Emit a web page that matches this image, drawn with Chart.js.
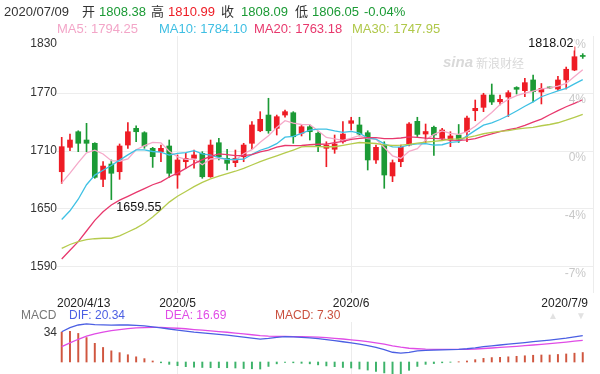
<!DOCTYPE html>
<html><head><meta charset="utf-8">
<script src="https://cdn.jsdelivr.net/npm/chart.js@4.4.1/dist/chart.umd.min.js"></script>
<style>
html,body{margin:0;padding:0;background:#fff;}
#wrap{position:relative;width:600px;height:374px;overflow:hidden;background:#fff;}
canvas{position:absolute;left:0;top:0;}
</style></head><body>
<div id="wrap"><canvas id="main" width="600" height="374"></canvas><canvas id="macd" width="600" height="374"></canvas></div>
<script>
// ---- data ----
const dates = ['4/13','4/14','4/15','4/16','4/17','4/20','4/21','4/22','4/23','4/24','4/27','4/28','4/29','4/30',
 '5/1','5/4','5/5','5/6','5/7','5/8','5/11','5/12','5/13','5/14','5/15','5/18','5/19','5/20','5/21','5/22','5/25','5/26','5/27','5/28','5/29',
 '6/1','6/2','6/3','6/4','6/5','6/8','6/9','6/10','6/11','6/12','6/15','6/16','6/17','6/18','6/19','6/22','6/23','6/24','6/25','6/26','6/29','6/30',
 '7/1','7/2','7/3','7/6','7/7','7/8','7/9'];
const opens = [1688.5,1713.8,1730.0,1721.4,1718.0,1680.6,1696.5,1688.5,1716.2,1733.5,1729.0,1712.8,1709.3,1715.2,
 1685.1,1698.9,1702.4,1707.6,1683.3,1718.6,1702.4,1697.9,1704.1,1718.0,1731.0,1747.3,1733.5,1747.3,1749.7,1728.4,1735.2,1728.4,1712.8,1711.8,1719.6,
 1738.7,1737.0,1729.0,1700.7,1716.2,1684.1,1698.9,1716.2,1740.8,1727.6,1734.6,1723.2,1721.4,1726.6,1730.0,1751.8,1755.3,1768.1,1761.1,1766.0,1775.9,1772.6,
 1783.7,1771.2,1776.1,1774.3,1783.7,1794.0,1808.38];
const highs = [1724.2,1727.6,1731.0,1738.7,1718.6,1698.9,1700.7,1717.3,1739.4,1736.0,1730.0,1713.8,1716.2,1721.4,
 1705.9,1707.6,1711.0,1709.3,1721.4,1723.2,1711.8,1711.0,1718.0,1740.4,1750.8,1764.7,1747.3,1752.5,1750.8,1737.0,1737.0,1730.0,1719.6,1726.6,1740.4,
 1745.0,1745.0,1731.0,1716.2,1719.6,1700.7,1716.2,1739.4,1745.0,1738.0,1735.9,1733.5,1730.0,1737.5,1746.3,1762.9,1769.9,1779.5,1768.1,1772.6,1776.7,1785.4,
 1788.8,1780.0,1776.4,1787.5,1797.1,1818.02,1810.99];
const lows = [1676.5,1710.3,1709.3,1709.3,1681.7,1673.0,1659.55,1680.6,1712.8,1719.6,1712.8,1693.0,1698.9,1682.7,
 1671.3,1692.0,1692.1,1681.7,1682.7,1700.7,1690.3,1693.7,1698.9,1711.8,1730.0,1728.4,1726.6,1745.0,1718.0,1725.6,1721.4,1709.3,1693.7,1707.6,1718.0,
 1731.8,1725.6,1690.3,1697.2,1671.3,1678.2,1693.7,1715.2,1725.0,1718.3,1705.3,1721.4,1714.5,1718.8,1719.6,1741.4,1750.8,1758.2,1757.7,1745.8,1769.1,1766.3,
 1760.8,1758.8,1775.0,1772.8,1774.3,1793.3,1806.05];
const closes = [1714.5,1721.4,1718.0,1718.0,1682.7,1694.4,1686.9,1715.2,1730.0,1730.0,1715.2,1704.1,1712.8,1686.9,
 1700.7,1702.4,1705.9,1683.3,1716.2,1704.1,1697.2,1702.4,1716.2,1737.0,1742.9,1731.0,1745.6,1750.8,1724.8,1735.2,1730.0,1714.5,1716.2,1717.3,1727.6,
 1741.4,1727.6,1700.7,1713.8,1685.1,1697.9,1713.8,1738.0,1727.2,1730.2,1726.6,1731.8,1725.6,1722.1,1744.2,1754.3,1768.1,1760.8,1763.6,1770.5,1774.0,1780.9,
 1771.5,1775.0,1775.4,1783.7,1794.8,1807.8,1808.09];
const ma5 = [1677,1687,1698,1708,1710.9,1706.9,1700.0,1699.4,1701.8,1711.3,1715.5,1718.9,1718.4,1709.8,1703.9,1701.4,1701.7,1695.8,1701.7,1702.4,
 1701.3,1700.6,1707.2,1711.4,1719.1,1725.9,1734.5,1741.5,1739.0,1737.5,1737.3,1731.1,1724.1,1722.6,1721.1,1723.4,1726.0,1722.9,1722.2,1713.7,
 1705.0,1702.3,1709.7,1712.4,1721.4,1727.2,1730.8,1728.3,1727.3,1730.1,1735.6,1742.9,1749.9,1758.2,1763.5,1767.4,1770.0,1772.1,1774.4,1775.4,
 1777.3,1780.1,1787.3,1794.25];
const ma10 = [1639,1648,1660,1675,1685,1690,1695,1700.5,1706,1711.1,1711.2,1709.5,1708.9,1705.8,1707.6,1708.4,1710.3,1707.1,1705.8,1703.2,
 1701.4,1701.2,1701.5,1706.5,1710.8,1713.6,1717.6,1724.3,1725.2,1728.3,1731.6,1732.8,1732.8,1730.8,1729.3,1730.3,1728.5,1723.5,1722.4,1717.4,
 1714.2,1714.1,1716.3,1717.3,1717.6,1716.1,1716.5,1719.0,1719.8,1725.7,1731.4,1736.8,1739.1,1742.7,1746.8,1751.5,1756.4,1761.0,1766.3,1769.4,
 1772.4,1775.0,1779.7,1784.10];
const ma20 = [1598,1607,1616,1627,1638,1647,1654,1659,1663,1667,1671,1675,1678,1683,1687,1692,1697,1701,1704.5,1707.1,
 1706.3,1705.3,1705.2,1706.2,1709.2,1711.0,1714.0,1715.7,1715.5,1715.7,1716.5,1717.0,1717.2,1718.7,1720.0,1722.0,1723.1,1723.9,1723.8,1722.9,
 1722.9,1723.5,1724.6,1724.1,1723.4,1723.2,1722.5,1721.3,1721.1,1721.6,1722.8,1725.5,1727.7,1730.0,1732.2,1733.8,1736.5,1740.0,1743.1,1747.6,
 1751.9,1755.9,1759.4,1763.18];
const ma30 = [1609,1613,1616,1618,1619,1619.5,1619.5,1622,1626,1630,1635,1641.5,1649,1657,1663,1668,1673,1677.5,1681,1684,
 1686.5,1689,1692,1695.5,1699,1702,1705,1708,1711,1714.2,1714.7,1714.5,1714.4,1714.4,1715.9,1717.5,1718.8,1718.3,1717.8,1716.3,
 1715.7,1716.0,1716.9,1718.2,1719.2,1720.0,1720.9,1722.3,1722.5,1723.8,1725.7,1727.9,1729.4,1730.3,1731.2,1732.6,1733.8,1734.5,1736.2,1737.5,
 1739.3,1742.0,1745.0,1747.95];
const dif = [23.3,26.5,28.5,29.3,28.8,28.6,28.4,28.6,28.5,28.2,27.8,27.0,26.3,25.4,24.6,23.8,23.0,22.4,21.8,21.2,
 20.7,20.0,19.2,18.4,17.6,18.2,19.0,19.5,19.3,19.0,18.6,18.0,17.2,16.4,15.6,14.8,13.8,12.6,11.2,9.6,
 7.5,6.8,7.4,8.5,9.0,9.2,9.4,9.6,9.8,10.2,10.9,11.8,12.5,13.1,13.7,14.3,15.0,15.7,16.3,16.9,17.6,18.4,19.4,20.34];
const dea = [11.8,14.7,17.5,19.9,21.6,23.0,24.1,25.0,25.7,26.2,26.5,26.6,26.6,26.3,26.0,25.6,25.0,24.5,24.0,23.4,
 22.9,22.3,21.7,21.0,20.3,19.9,19.7,19.7,19.6,19.5,19.3,19.1,18.7,18.2,17.7,17.1,16.5,15.7,14.8,13.8,
 12.5,11.4,10.6,10.2,9.9,9.8,9.7,9.7,9.7,9.8,10.0,10.4,10.8,11.3,11.7,12.1,12.6,13.1,13.6,14.2,14.7,15.3,16.0,16.69];
const macdHist = [23.0,23.6,22.0,18.8,14.4,11.2,8.6,7.2,5.6,4.0,2.6,0.8,-0.6,-1.8,-2.8,-3.6,-4.0,-4.2,-4.4,-4.4,
 -4.4,-4.6,-5.0,-5.2,-5.4,-3.4,-1.4,-0.4,-0.6,-1.0,-1.4,-2.2,-3.0,-3.6,-4.2,-4.6,-5.4,-6.2,-7.2,-8.4,
 -10.0,-9.2,-6.4,-3.4,-1.8,-1.2,-0.6,-0.2,0.2,0.8,1.8,2.8,3.4,3.6,4.0,4.4,4.8,5.2,5.4,5.4,5.8,6.2,6.8,7.30];
const priceTicks = [1830,1770,1710,1650,1590];
const pctTicks = ['7%','4%','0%','-4%','-7%'];
const xTickIndex = [0,14,35,63];
const xTickLabels = ['2020/4/13','2020/5','2020/6','2020/7/9'];
const macdTickLabel = '34';
const headDate = '2020/07/09';
const headChange = '-0.04%';

// ---- styling ----
const UP = '#ee1c25', DOWN = '#1b9a35';
const FONT = '"Liberation Sans", Arial, "Noto Sans CJK SC", sans-serif';
const idx = dates.map((d,i)=>i);
const candleCol = idx.map(i => closes[i] >= opens[i] ? UP : DOWN);
const xMin = -0.57, xMax = 64.24;

function xAxis(gridVals){
  return {type:'linear', min:xMin, max:xMax, offset:false,
    grid:{color:'#ececec', drawTicks:false, offset:false}, border:{display:false}, ticks:{display:false},
    afterBuildTicks: s => { s.ticks = gridVals.map(v=>({value:v})); },
    afterFit: s => { s.height = 0; }};
}

const mainTexts = {
  id:'mainTexts',
  afterDraw(chart){
    const ctx = chart.ctx, ys = chart.scales.y, xs = chart.scales.x;
    ctx.save();
    ctx.textBaseline = 'middle';
    ctx.font = '13px ' + FONT;
    const last = opens.length - 1;
    const head = [
      [headDate,'#333',4],['开','#333',82],[opens[last].toFixed(2),DOWN,99],['高','#333',151],[highs[last].toFixed(2),UP,168],
      ['收','#333',221],[closes[last].toFixed(2),DOWN,241],['低','#333',295],[lows[last].toFixed(2),DOWN,312],[headChange,DOWN,364]];
    head.forEach(h => { ctx.fillStyle = h[1]; ctx.fillText(h[0], h[2], 12.5); });
    const mal = [['MA5: '+ma5[last].toFixed(2),'#f3a6c8',57],['MA10: '+ma10[last].toFixed(2),'#3fbfe3',159],
      ['MA20: '+ma20[last].toFixed(2),'#e8386d',254],['MA30: '+ma30[last].toFixed(2),'#b0c84a',352]];
    mal.forEach(h => { ctx.fillStyle = h[1]; ctx.fillText(h[0], h[2], 29); });
    // watermark
    ctx.fillStyle = '#d9d9d9';
    ctx.font = 'italic bold 15px ' + FONT;
    ctx.fillText('sina', 443, 63);
    ctx.font = '12px "Noto Sans CJK SC", sans-serif';
    ctx.fillText('新浪财经', 476, 63);
    // y labels left + percent right
    ctx.font = '12px ' + FONT;
    priceTicks.forEach((v,k) => {
      const y = ys.getPixelForValue(v);
      ctx.textAlign = 'right';
      ctx.fillStyle = '#c8c8c8';
      ctx.fillText(pctTicks[k], 586, Math.max(y + 7, 45));
      ctx.fillStyle = '#333';
      ctx.fillText(String(v), 57, Math.max(y, 44));
    });
    // max / min marks
    let hi = 0, lo = 0;
    highs.forEach((v,i)=>{ if (v > highs[hi]) hi = i; });
    lows.forEach((v,i)=>{ if (v < lows[lo]) lo = i; });
    ctx.font = '12.5px ' + FONT;
    const hiTxt = highs[hi].toFixed(2);
    const hx = xs.getPixelForValue(hi) - 1, hy = 43.5;
    const w = ctx.measureText(hiTxt).width;
    ctx.fillStyle = '#fff'; ctx.fillRect(hx - w - 1, hy - 7, w + 2, 14);
    ctx.fillStyle = '#111'; ctx.textAlign = 'right'; ctx.fillText(hiTxt, hx, hy);
    ctx.textAlign = 'left';
    ctx.fillText(lows[lo].toFixed(2), xs.getPixelForValue(lo) + 5, ys.getPixelForValue(lows[lo]) + 8);
    // x labels
    ctx.font = '12px ' + FONT;
    ctx.fillStyle = '#222';
    xTickIndex.forEach((v,k) => {
      let x = xs.getPixelForValue(v);
      if (k === 0) { ctx.textAlign = 'left'; x = 57; }
      else if (k === xTickIndex.length - 1) { ctx.textAlign = 'right'; x = 588; }
      else ctx.textAlign = 'center';
      ctx.fillText(xTickLabels[k], x, 304);
    });
    ctx.restore();
  }
};

new Chart(document.getElementById('main'), {
  type:'bar',
  data:{datasets:[
    {type:'line', label:'MA30', data: idx.map(i=>({x:i,y:ma30[i]})), borderColor:'#b5cb4d', borderWidth:1.3, pointRadius:0, order:0},
    {type:'line', label:'MA20', data: idx.map(i=>({x:i,y:ma20[i]})), borderColor:'#e8386d', borderWidth:1.3, pointRadius:0, order:0},
    {type:'line', label:'MA10', data: idx.map(i=>({x:i,y:ma10[i]})), borderColor:'#3fc1e4', borderWidth:1.3, pointRadius:0, order:0},
    {type:'line', label:'MA5', data: idx.map(i=>({x:i,y:ma5[i]})), borderColor:'#f5a9c9', borderWidth:1.3, pointRadius:0, order:0},
    {type:'bar', label:'body', data: idx.map(i=>({x:i,y:[opens[i],closes[i]]})), backgroundColor:candleCol, barThickness:5, minBarLength:1, grouped:false, order:1},
    {type:'bar', label:'wick', data: idx.map(i=>({x:i,y:[lows[i],highs[i]]})), backgroundColor:candleCol, barThickness:1, grouped:false, order:2}
  ]},
  options:{
    responsive:false, animation:false, devicePixelRatio:1,
    layout:{padding:{left:57,right:7,top:36,bottom:81}},
    plugins:{legend:{display:false}, tooltip:{enabled:false}},
    scales:{
      x: xAxis([14,35,xMax]),
      y: {type:'linear', min:1562.7, max:1829.3, grid:{color:'#ededed', drawTicks:false}, border:{display:false}, ticks:{display:false},
          afterBuildTicks: s => { s.ticks = priceTicks.slice(1).map(v=>({value:v})); },
          afterFit: s => { s.width = 0; }}
    }
  },
  plugins:[mainTexts]
});

const macdTexts = {
  id:'macdTexts',
  afterDraw(chart){
    const ctx = chart.ctx;
    const last = dif.length - 1;
    ctx.save();
    ctx.textBaseline = 'middle';
    ctx.font = '12px ' + FONT;
    [['MACD','#777',21],['DIF: '+dif[last].toFixed(2),'#4b5fe3',69],['DEA: '+dea[last].toFixed(2),'#e04ce6',165],['MACD: '+macdHist[last].toFixed(2),'#c9503e',275]]
      .forEach(h => { ctx.fillStyle = h[1]; ctx.fillText(h[0], h[2], 316); });
    ctx.fillStyle = '#e2e2e2';
    ctx.font = '10px ' + FONT;
    ctx.fillText('▲', 548, 316); ctx.fillText('▼', 576, 316);
    ctx.font = '12px ' + FONT;
    ctx.fillStyle = '#333'; ctx.textAlign = 'right';
    ctx.fillText(macdTickLabel, 57, chart.chartArea.top + 11);
    ctx.restore();
  }
};

new Chart(document.getElementById('macd'), {
  type:'bar',
  data:{datasets:[
    {type:'line', label:'DIF', data: idx.map(i=>({x:i,y:dif[i]})), borderColor:'#4b5fe3', borderWidth:1.3, pointRadius:0, order:0},
    {type:'line', label:'DEA', data: idx.map(i=>({x:i,y:dea[i]})), borderColor:'#e04ce6', borderWidth:1.3, pointRadius:0, order:0},
    {type:'bar', label:'MACD', data: idx.map(i=>({x:i,y:macdHist[i]})), backgroundColor: macdHist.map(v => v >= 0 ? '#d0563f' : '#3db36a'), barThickness:1.3, order:1}
  ]},
  options:{
    responsive:false, animation:false, devicePixelRatio:1,
    layout:{padding:{left:57,right:7,top:322,bottom:0}},
    plugins:{legend:{display:false}, tooltip:{enabled:false}},
    scales:{
      x: xAxis([14,35]),
      y: {type:'linear', min:-9.23, max:30.8, grid:{display:false}, border:{display:false}, ticks:{display:false},
          afterFit: s => { s.width = 0; }}
    }
  },
  plugins:[macdTexts]
});
</script>
</body></html>
